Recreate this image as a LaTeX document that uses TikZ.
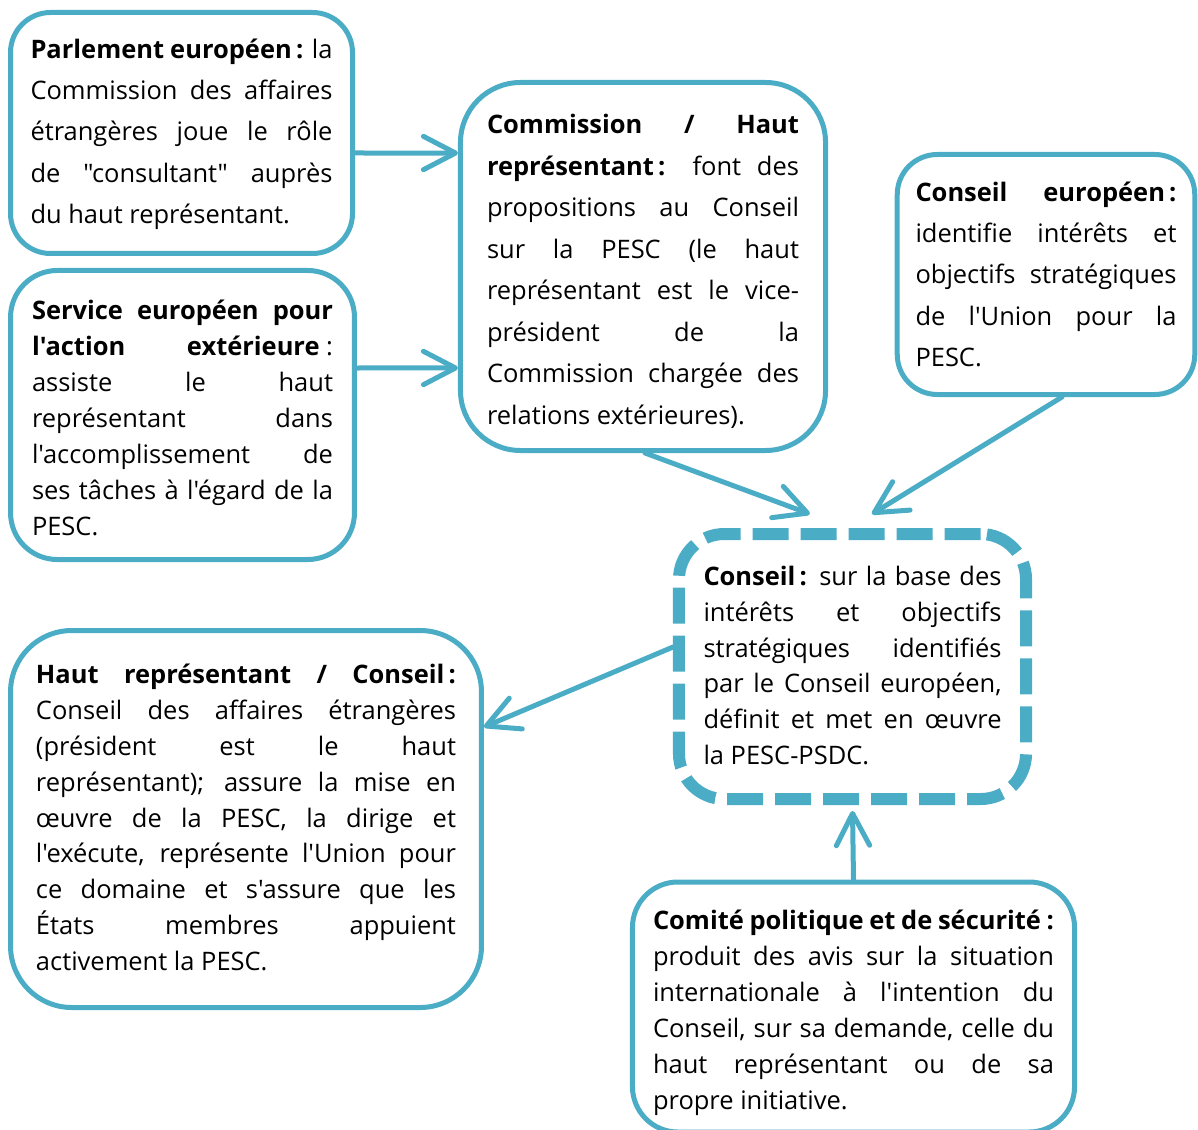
\documentclass[tikz,border=0pt]{standalone}
\usepackage{fontspec}
\setmainfont{Open Sans}[Ligatures=TeXOff]
\usetikzlibrary{arrows.meta}
\definecolor{eublue}{RGB}{75,172,198}

\tikzset{
  box/.style={draw=eublue, line width=3.75pt, fill=white, align=justify, inner ysep=0pt,
    font=\fontsize{19.1}{31.1}\selectfont},
  tight/.style={font=\fontsize{19.1}{26.9}\selectfont},
  textdrop/.style={execute at begin node={\rule{0pt}{\dimexpr 12pt+#1\relax}},
    execute at end node={\rule[-12pt]{0pt}{12pt}}},
  arr/.style={draw=eublue, line width=3.75pt, line cap=round,
    -{Straight Barb[length=24pt, width=25pt, round]}},
}

\begin{document}
\begin{tikzpicture}[x=0.75pt, y=-0.75pt]
  \useasboundingbox (0,0) rectangle (1198,1130);

  % boxes
  \node[box, textdrop=12pt, text width=226.5pt, inner xsep=15pt, minimum height=180.75pt, rounded corners=30pt] (parl) at (181.5,133)
    {\textbf{Parlement européen\,:} la\linebreak
     Commission des affaires\linebreak
     étrangères joue le rôle\linebreak
     de "consultant" auprès\linebreak
     du haut représentant.};
  \node[box, tight, textdrop=18.75pt, text width=225.75pt, inner xsep=16.1pt, minimum height=216.75pt, rounded corners=35pt] (seae) at (182.5,415)
    {\textbf{Service européen pour}\linebreak
     \textbf{l'action} \mbox{\textbf{extérieure}\ :}\linebreak
     assiste le haut\linebreak
     représentant dans\linebreak
     l'accomplissement de\linebreak
     ses tâches à l'égard de la\linebreak
     PESC.};
  \node[box, textdrop=18.75pt, text width=234pt, inner xsep=19.9pt, minimum height=276pt, rounded corners=45pt] (comm) at (643,266.5)
    {\textbf{Commission / Haut}\linebreak
     \textbf{représentant\,:} font des\linebreak
     propositions au Conseil\linebreak
     sur la PESC (le haut\linebreak
     représentant est le vice-\linebreak
     président de la\linebreak
     Commission chargée des\linebreak
     relations extérieures).};
  \node[box, textdrop=14.25pt, text width=195.75pt, inner xsep=13.7pt, minimum height=180pt, rounded corners=30pt] (ceur) at (1046,274.5)
    {\textbf{Conseil européen\,:}\linebreak
     identifie intérêts et\linebreak
     objectifs stratégiques\linebreak
     de l'Union pour la\linebreak
     PESC.};
  \node[box, tight, textdrop=12.75pt, line width=9pt, dash pattern=on 27pt off 9pt, text width=223.5pt, inner xsep=18.4pt,
        minimum height=198.75pt, rounded corners=34pt] (cons) at (852.5,666.5)
    {\textbf{Conseil\,:} sur la base des\linebreak
     intérêts et objectifs\linebreak
     stratégiques identifiés\linebreak
     par le Conseil européen,\linebreak
     définit et met en œuvre\linebreak
     la PESC-PSDC.};
  \node[box, tight, textdrop=12pt, text width=315pt, inner xsep=19.1pt, minimum height=282.75pt, rounded corners=46pt] (haut) at (246,819)
    {\textbf{Haut représentant / Conseil\,:}\linebreak
     Conseil des affaires étrangères\linebreak
     (président est le haut\linebreak
     représentant); assure la mise en\linebreak
     œuvre de la PESC, la dirige et\linebreak
     l'exécute, représente l'Union pour\linebreak
     ce domaine et s'assure que les\linebreak
     États membres appuient\linebreak
     activement la PESC.};
  \node[box, tight, textdrop=18.75pt, text width=300.75pt, inner xsep=15.4pt, minimum height=187.5pt, rounded corners=34pt] (cps) at (853.5,1007)
    {\textbf{Comité politique et de sécurité :}\linebreak
     produit des avis sur la situation\linebreak
     internationale à l'intention du\linebreak
     Conseil, sur sa demande, celle du\linebreak
     haut représentant ou de sa\linebreak
     propre initiative.};

  % arrows
  \draw[arr] ([yshift=-15pt]parl.east) -- ([yshift=85.1pt]comm.west);
  \draw[arr] ([yshift=35.25pt]seae.east) -- ([yshift=-76.1pt]comm.west);
  \draw[arr] ([xshift=1.5pt]comm.south) -- ([xshift=-32pt, yshift=10.5pt]cons.north);
  \draw[arr] ([xshift=12pt]ceur.south) -- ([xshift=14.6pt, yshift=10.5pt]cons.north);
  \draw[arr] ([yshift=14.6pt]cons.west) -- ([yshift=69pt]haut.east);
  \draw[arr] (cps.north) -- ([yshift=-4.5pt]cons.south);
\end{tikzpicture}
\end{document}
